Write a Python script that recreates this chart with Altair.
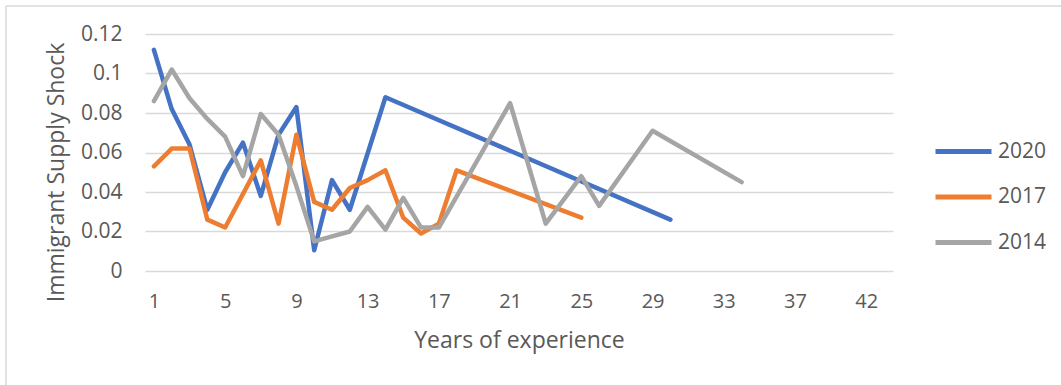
import altair as alt
import pandas as pd

# Experience categories on the x axis (41 is absent from the survey)
categories = [str(c) for c in list(range(1, 41)) + [42, 43]]
tick_labels = ["1", "5", "9", "13", "17", "21", "25", "29", "33", "37", "42"]

series_names = ["2020", "2017", "2014"]
series_colors = ["#4472C4", "#ED7D31", "#A5A5A5"]

exp_2020 = [1, 2, 3, 4, 5, 6, 7, 8, 9, 10, 11, 12, 14, 30]
shock_2020 = [0.112, 0.082, 0.064, 0.031, 0.050, 0.065, 0.038, 0.069, 0.083,
              0.0105, 0.046, 0.031, 0.088, 0.026]

exp_2017 = [1, 2, 3, 4, 5, 6, 7, 8, 9, 10, 11, 12, 13, 14, 15, 16, 17, 18, 25]
shock_2017 = [0.053, 0.062, 0.062, 0.026, 0.022, 0.039, 0.056, 0.024, 0.069,
              0.035, 0.031, 0.042, 0.046, 0.051, 0.027, 0.019, 0.024, 0.051,
              0.027]

exp_2014 = [1, 2, 3, 4, 5, 6, 7, 8, 9, 10, 11, 12, 13, 14, 15, 16, 17,
            21, 23, 25, 26, 29, 34]
shock_2014 = [0.086, 0.102, 0.0875, 0.077, 0.068, 0.048, 0.0795, 0.069, 0.043,
              0.015, 0.0175, 0.020, 0.0325, 0.021, 0.037, 0.022, 0.022,
              0.085, 0.024, 0.048, 0.033, 0.071, 0.045]

rows = []
for name, xs, ys in [("2020", exp_2020, shock_2020),
                     ("2017", exp_2017, shock_2017),
                     ("2014", exp_2014, shock_2014)]:
    for i, (x, y) in enumerate(zip(xs, ys)):
        rows.append({"year": name, "exp": str(x), "shock": y, "idx": i})
df = pd.DataFrame(rows)

TEXT = "#595959"
GRID = "#D9D9D9"
FONT = "Open Sans"

lines = alt.Chart(df).mark_line(
    strokeWidth=4.5, strokeCap="round", strokeJoin="round"
).encode(
    x=alt.X("exp:O",
            scale=alt.Scale(type="point", domain=categories, padding=0.5),
            axis=alt.Axis(values=tick_labels, labelAngle=0, ticks=False,
                          domain=False, grid=False, labelPadding=20,
                          labelFontSize=20, labelColor=TEXT, labelFont=FONT,
                          title="Years of experience", titleFontSize=23,
                          titleColor=TEXT, titleFont=FONT,
                          titleFontWeight="normal", titlePadding=18)),
    y=alt.Y("shock:Q",
            scale=alt.Scale(domain=[0, 0.12], nice=False),
            axis=alt.Axis(values=[0, 0.02, 0.04, 0.06, 0.08, 0.1, 0.12],
                          labelExpr="datum.value == 0 ? '0' : format(datum.value, '.2~f')",
                          ticks=False, domain=False,
                          gridColor=GRID, gridWidth=1.5, labelPadding=23,
                          labelFontSize=21, labelColor=TEXT, labelFont=FONT,
                          title="Immigrant Supply Shock", titleFontSize=23,
                          titleColor=TEXT, titleFont=FONT,
                          titleFontWeight="normal", titlePadding=12,
                          titleY=138)),
    color=alt.Color("year:N",
                    scale=alt.Scale(domain=series_names, range=series_colors),
                    legend=alt.Legend(title=None, orient="none",
                                      legendX=788, legendY=87,
                                      symbolType="stroke", symbolSize=3136,
                                      symbolStrokeWidth=5, labelFontSize=21,
                                      labelColor=TEXT, labelFont=FONT,
                                      labelOffset=4, rowPadding=4.5)),
    order=alt.Order("idx:Q"),
)

# Light frame edges (left and top) around the figure
frame_data = pd.DataFrame({"a": [0]})
frame_left = alt.Chart(frame_data).mark_rule(
    stroke=GRID, strokeWidth=1.5
).encode(x=alt.value(-139), y=alt.value(-28), y2=alt.value(420))
frame_top = alt.Chart(frame_data).mark_rule(
    stroke=GRID, strokeWidth=1.5
).encode(x=alt.value(-139), x2=alt.value(1000), y=alt.value(-28))

chart = alt.layer(frame_left, frame_top, lines).properties(
    width=748, height=237,
    autosize=alt.AutoSizeParams(type="none"),
    padding={"left": 145, "top": 34, "right": 168, "bottom": 114},
    background="white",
).configure_view(stroke=None)

chart.save("out.html", embed_options={"renderer": "svg", "actions": False})
